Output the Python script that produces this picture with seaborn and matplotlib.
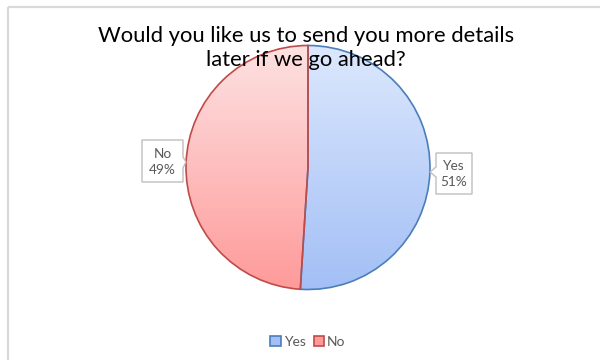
import numpy as np
import matplotlib
matplotlib.use("Agg")
import matplotlib.pyplot as plt
from matplotlib.patches import Polygon, Patch
from matplotlib.colors import LinearSegmentedColormap
import seaborn as sns

sns.set_theme(style="white")
plt.rcParams["font.family"] = ["Lato", "DejaVu Sans"]

title = "Would you like us to send you more details\nlater if we go ahead?"
answers = ["Yes", "No"]
shares = [51, 49]

edge_colors = ["#4a7ebb", "#be4b48"]
grad_top = ["#dce8fd", "#fde2e2"]
grad_bottom = ["#a3bff6", "#ff9a9a"]
text_grey = "#595959"

W, H = 600, 360
fig = plt.figure(figsize=(W / 100, H / 100), dpi=100)
ax = fig.add_axes([0, 0, 1, 1])

cx, cy, r = 308, H - 167.5, 122

wedges, _ = ax.pie(shares, startangle=90, counterclock=False,
                   center=(cx, cy), radius=r, frame=True,
                   wedgeprops=dict(linewidth=1.2))
ax.set_xlim(0, W)
ax.set_ylim(0, H)
ax.axis("off")

# vertical gradient fill clipped to each wedge
grad = np.linspace(0, 1, 256).reshape(-1, 1)
for w, ec, top, bot in zip(wedges, edge_colors, grad_top, grad_bottom):
    w.set_facecolor("none")
    w.set_edgecolor(ec)
    w.set_zorder(3)
    cmap = LinearSegmentedColormap.from_list("g", [bot, top])
    im = ax.imshow(grad, cmap=cmap, origin="lower", aspect="auto",
                   extent=(cx - r, cx + r, cy - r, cy + r), zorder=2,
                   interpolation="bilinear")
    im.set_clip_path(w)

# frame edge of the chart area
ax.plot([7.5, 7.5], [0, H - 7], color="#d9d9d9", lw=1.6, zorder=1,
        solid_capstyle="butt")
ax.plot([7.5, W], [H - 7, H - 7], color="#d9d9d9", lw=1.6, zorder=1,
        solid_capstyle="butt")

ax.text(306, H - 48, title, ha="center", va="center", fontsize=15.8,
        color="#000000", linespacing=1.2, zorder=5)

# data-label callouts
callouts = {
    "No": [(142, 140), (183, 140), (183, 157), (186, 162), (183, 168),
           (183, 182), (142, 182)],
    "Yes": [(436, 153), (472, 153), (472, 194), (436, 194), (436, 177),
            (430, 172), (436, 167)],
}
label_centres = {"No": (162.5, 161.5), "Yes": (454, 173.5)}
for name, val in zip(answers, shares):
    pts = [(x, H - y) for x, y in callouts[name]]
    ax.add_patch(Polygon(pts, closed=True, facecolor="white",
                         edgecolor="#bfbfbf", lw=1.0, zorder=4))
    lx, ly = label_centres[name]
    ax.text(lx, H - ly, f"{name}\n{val}%", ha="center", va="center",
            fontsize=9.8, color=text_grey, linespacing=1.4, zorder=5)

handles = [Patch(facecolor=t, edgecolor=e, lw=1.2, label=a)
           for a, t, e in zip(answers, grad_bottom, edge_colors)]
ax.legend(handles=handles, loc="center", bbox_to_anchor=(308 / W, 1 - 342 / H),
          ncol=2, frameon=False, fontsize=10, labelcolor=text_grey,
          handlelength=0.75, handleheight=0.75, handletextpad=0.2,
          columnspacing=0.6)

fig.savefig("out.png", dpi=100, facecolor="white")
